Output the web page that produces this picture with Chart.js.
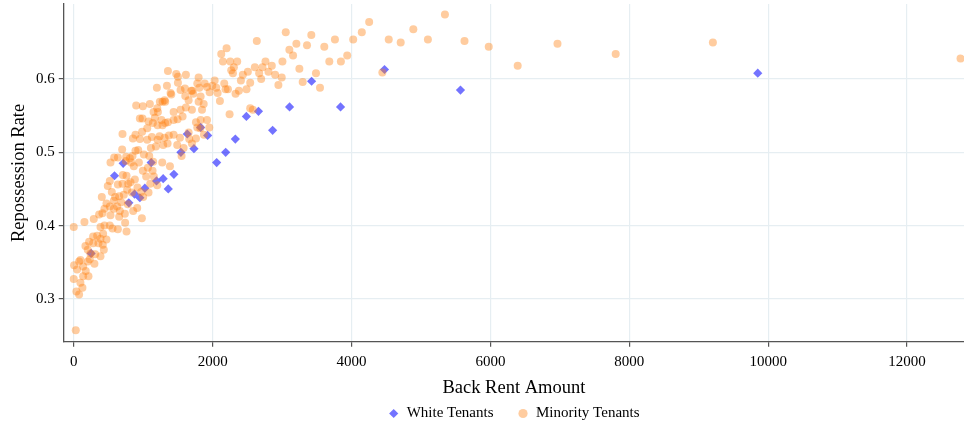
<!DOCTYPE html>
<html>
<head>
<meta charset="utf-8">
<script src="https://cdn.jsdelivr.net/npm/chart.js@4.4.0/dist/chart.umd.min.js"></script>
<style>
  html, body { margin: 0; padding: 0; background: #ffffff; }
  #wrap { width: 964px; height: 428px; }
</style>
</head>
<body>
<div id="wrap"><canvas id="c" width="964" height="428"></canvas></div>
<script>
// Axis ticks
const xTicks = [0, 2000, 4000, 6000, 8000, 10000, 12000];
const yTicks = [0.3, 0.4, 0.5, 0.6];

// White tenants: back rent amount and repossession rate
const whiteRent = [250, 587, 712, 793, 875, 952, 1024, 1115, 1192, 1288, 1361, 1442, 1543, 1635, 1731, 1827, 1928, 2058, 2188, 2327, 2486, 2660, 2864, 3108, 3425, 3842, 4475, 5569, 9850];
const whiteRate = [0.362, 0.468, 0.485, 0.431, 0.443, 0.438, 0.451, 0.486, 0.461, 0.464, 0.450, 0.470, 0.500, 0.525, 0.505, 0.534, 0.523, 0.486, 0.500, 0.518, 0.549, 0.556, 0.530, 0.562, 0.597, 0.562, 0.613, 0.585, 0.608];

// Minority tenants: back rent amount and repossession rate
const minorityRent = [
  5345, 4254, 4148, 4024, 4536, 4708, 4890, 5100, 5627, 5976, 6393, 6966, 7804, 9204, 12770,
  3938, 3847, 3680, 3761, 3608, 3488, 3546, 3421, 3359, 3297, 3249, 3206, 3158, 3105, 3053,
  3005, 2995, 2947, 2900, 2852, 2804, 2761, 2718, 2699, 2670, 2608, 2636, 2541, 2507, 2488,
  2435, 2407, 2378, 2330, 2306, 2292, 2268, 2354, 2254, 2201, 2148, 2124, 2244, 2105, 2167,
  2186, 2220, 2072, 2053, 2029, 1995, 1957, 1919, 1886, 1871, 1847, 1919, 1952, 1875, 2541,
  2579, 4444,
  1615, 1476, 1601, 1606, 1538, 1707, 1654, 1798, 1500, 1404, 1500, 1356, 1342, 1197, 1279,
  1317, 1438, 1538, 1615, 1702, 1827, 1760, 1779, 1822, 1808, 1779, 1827, 1721, 1798, 1567,
  1495, 1438, 1356, 1317, 1279, 1207, 1139, 1168, 1077, 990, 952, 899, 995, 1096, 1202,
  1308, 1240, 1149, 1212, 1264, 1058, 985, 889, 952, 1058, 1125, 1236, 1308, 1370, 1438,
  1351, 1207, 1288, 1183, 1111, 1087, 1010, 928, 889, 846, 755, 697, 702, 851, 582,
  635, 808, 750, 827, 938, 1144, 1274, 1385, 1553, 1582, 1490, 1529, 1663, 1702, 1654,
  1760, 529, 865, 995, 1067, 1135, 1043, 1154, 1101, 1202, 880, 817, 784, 702, 635,
  548, 490, 519, 971, 918, 837, 769, 1077, 707, 760, 1394, 1693,
  404, 596, 654, 721, 1000, 779, 683, 625, 577, 519, 471, 442, 577, 664, 736,
  856, 914, 981, 654, 529, 413, 365, 288, 154, 385, 442, 519, 558, 635, 760,
  740, 0, 279, 337, 423, 471, 385, 356, 418, 279, 221, 168, 202, 240, 308,
  433, 385, 298, 231, 202, 96, 77, 5, 48, 135, 173, 135, 212, 96, 125,
  0, 38, 77, 29
];
const minorityRate = [
  0.688, 0.678, 0.664, 0.654, 0.654, 0.650, 0.668, 0.654, 0.652, 0.644, 0.618, 0.648, 0.634, 0.650, 0.628,
  0.632, 0.624, 0.624, 0.654, 0.644, 0.608, 0.588, 0.660, 0.646, 0.596, 0.614, 0.648, 0.632, 0.640, 0.664,
  0.624, 0.602, 0.592, 0.606, 0.618, 0.610, 0.624, 0.616, 0.600, 0.608, 0.616, 0.652, 0.595, 0.610, 0.586,
  0.606, 0.598, 0.584, 0.580, 0.616, 0.608, 0.612, 0.624, 0.624, 0.642, 0.624, 0.634, 0.552, 0.570, 0.594,
  0.586, 0.586, 0.581, 0.588, 0.598, 0.591, 0.582, 0.589, 0.594, 0.566, 0.558, 0.544, 0.534, 0.524, 0.560,
  0.558, 0.609,
  0.606, 0.607, 0.587, 0.577, 0.585, 0.584, 0.571, 0.569, 0.595, 0.579, 0.603, 0.611, 0.591, 0.588, 0.569,
  0.569, 0.555, 0.558, 0.561, 0.558, 0.544, 0.541, 0.534, 0.533, 0.588, 0.594, 0.576, 0.580, 0.602, 0.549,
  0.545, 0.544, 0.541, 0.540, 0.537, 0.537, 0.540, 0.547, 0.542, 0.546, 0.546, 0.564, 0.563, 0.566, 0.560,
  0.571, 0.569, 0.555, 0.555, 0.544, 0.533, 0.528, 0.524, 0.518, 0.517, 0.521, 0.522, 0.520, 0.523, 0.524,
  0.512, 0.517, 0.510, 0.508, 0.506, 0.495, 0.497, 0.503, 0.502, 0.495, 0.494, 0.504, 0.525, 0.519, 0.493,
  0.493, 0.492, 0.488, 0.486, 0.486, 0.487, 0.486, 0.481, 0.495, 0.506, 0.510, 0.520, 0.518, 0.512, 0.527,
  0.519, 0.486, 0.481, 0.475, 0.479, 0.475, 0.467, 0.467, 0.457, 0.455, 0.463, 0.459, 0.457, 0.457, 0.456,
  0.446, 0.454, 0.461, 0.446, 0.452, 0.445, 0.449, 0.445, 0.469, 0.468, 0.581, 0.584,
  0.439, 0.439, 0.440, 0.442, 0.439, 0.429, 0.432, 0.426, 0.434, 0.426, 0.430, 0.423, 0.423, 0.420, 0.416,
  0.420, 0.424, 0.410, 0.412, 0.414, 0.417, 0.415, 0.409, 0.405, 0.398, 0.400, 0.400, 0.396, 0.395, 0.392,
  0.404, 0.398, 0.385, 0.386, 0.389, 0.381, 0.382, 0.376, 0.374, 0.376, 0.378, 0.372, 0.367, 0.362, 0.361,
  0.367, 0.358, 0.348, 0.354, 0.351, 0.353, 0.351, 0.346, 0.340, 0.344, 0.338, 0.331, 0.331, 0.322, 0.315,
  0.327, 0.310, 0.306, 0.257
];

const serif = 'Liberation Serif';
const toPoints = (xs, ys) => xs.map((x, i) => ({ x: x, y: ys[i] }));

new Chart(document.getElementById('c'), {
  type: 'scatter',
  data: {
    datasets: [
      {
        label: 'White Tenants',
        data: toPoints(whiteRent, whiteRate),
        pointStyle: 'rectRot',
        pointRadius: 4.6,
        backgroundColor: 'rgba(0, 0, 255, 0.55)',
        borderColor: 'rgba(0, 0, 255, 0.55)',
        borderWidth: 0,
        order: 1
      },
      {
        label: 'Minority Tenants',
        data: toPoints(minorityRent, minorityRate),
        pointStyle: 'circle',
        pointRadius: 4,
        backgroundColor: 'rgba(255, 127, 14, 0.4)',
        borderColor: 'rgba(255, 127, 14, 0.4)',
        borderWidth: 0,
        order: 0
      }
    ]
  },
  options: {
    responsive: false,
    animation: false,
    events: [],
    layout: { autoPadding: false, padding: { top: 4, right: 0, bottom: -3, left: 0 } },
    scales: {
      x: {
        type: 'linear',
        min: -144,
        max: 12820,
        afterBuildTicks: (axis) => { axis.ticks = xTicks.map(v => ({ value: v })); },
        ticks: {
          font: { family: serif, size: 15, lineHeight: 1 },
          color: '#000',
          padding: 7.7,
          maxRotation: 0,
          callback: (v) => String(v)
        },
        grid: { color: '#e6eef2', lineWidth: 1.2, tickColor: '#555', tickLength: 5 },
        border: { color: '#555', width: 1.3 },
        title: {
          display: true,
          text: 'Back Rent Amount',
          color: '#000',
          font: { family: serif, size: 18.5, lineHeight: 1 },
          padding: { top: 1.8, bottom: -15.5 }
        }
      },
      y: {
        type: 'linear',
        min: 0.2414,
        max: 0.7023,
        afterBuildTicks: (axis) => { axis.ticks = yTicks.map(v => ({ value: v })); },
        ticks: {
          font: { family: serif, size: 15, lineHeight: 0.01 },
          color: '#000',
          padding: 4,
          callback: (v) => v.toFixed(1)
        },
        grid: { color: '#e6eef2', lineWidth: 1.2, tickColor: '#555', tickLength: 5 },
        border: { color: '#555', width: 1.3 },
        title: {
          display: true,
          text: 'Repossession Rate',
          color: '#000',
          font: { family: serif, size: 18.5, lineHeight: 1 },
          padding: { top: 9.5, bottom: 4 }
        }
      }
    },
    plugins: {
      legend: {
        position: 'bottom',
        fullSize: false,
        labels: {
          usePointStyle: true,
          boxWidth: 11,
          boxHeight: 6.5,
          padding: 24,
          color: '#000',
          font: { family: serif, size: 15 },
          sort: (a, b) => a.datasetIndex - b.datasetIndex
        }
      },
      tooltip: { enabled: false }
    }
  }
});
</script>
</body>
</html>
